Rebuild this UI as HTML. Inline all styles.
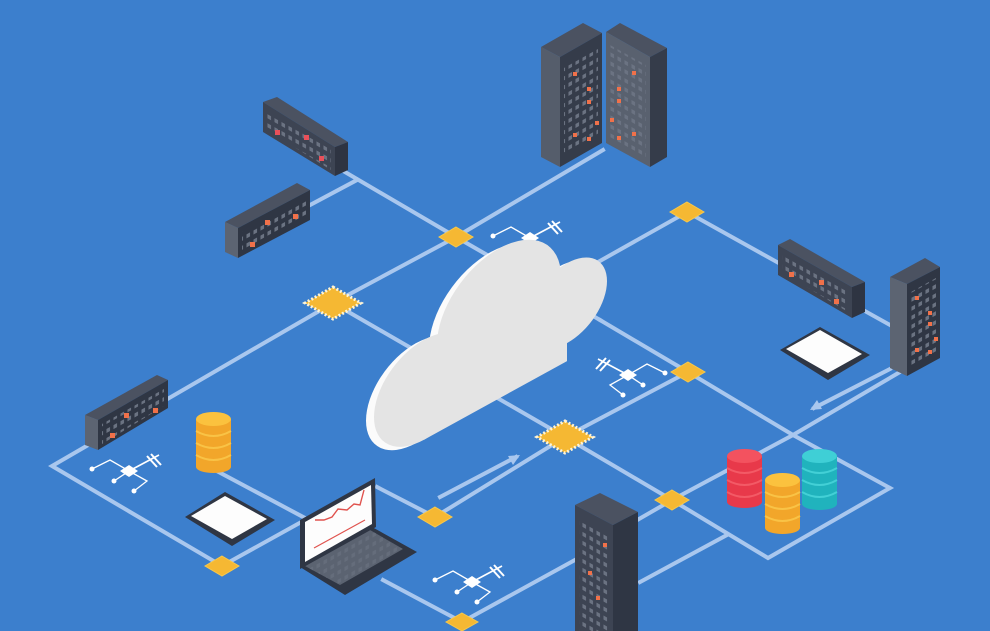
<!DOCTYPE html>
<html><head><meta charset="utf-8"><style>html,body{margin:0;padding:0;background:#3c7fcd}svg{display:block}</style></head>
<body>
<svg width="990" height="631" viewBox="0 0 990 631" xmlns="http://www.w3.org/2000/svg">
<defs>
<pattern id="pu" width="7" height="9" patternUnits="userSpaceOnUse" patternTransform="skewY(-29)"><rect x="1.5" y="2" width="3.5" height="4" fill="#6b7382"/></pattern>
<pattern id="pd" width="7" height="9" patternUnits="userSpaceOnUse" patternTransform="skewY(29)"><rect x="1.5" y="2" width="3.5" height="4" fill="#6b7382"/></pattern>
<g id="circ" stroke="#fff" stroke-width="1.3" fill="#fff">
<polyline points="-37,-2 -19,-11 0,0" fill="none"/>
<line x1="-15" y1="10" x2="0" y2="0"/>
<polyline points="0,0 18,10 5,20" fill="none"/>
<line x1="0" y1="0" x2="30" y2="-16" stroke-width="1.6"/>
<line x1="18" y1="-15" x2="28" y2="-4" stroke-width="2"/>
<line x1="22" y1="-17" x2="32" y2="-6" stroke-width="2"/>
<circle cx="-37" cy="-2" r="2.5" stroke="none"/><circle cx="-15" cy="10" r="2.5" stroke="none"/><circle cx="5" cy="20" r="2.5" stroke="none"/>
<polygon points="0,-6 9,0 0,6 -9,0" stroke="none"/>
</g>
</defs>
<rect width="990" height="631" fill="#3c7fcd"/>
<g stroke="#a9c7ee" stroke-width="4" fill="none" stroke-linecap="square">
<polyline points="603,150 456,237 333,303 52,466 222,566 305,520"/>
<polyline points="345,172 456,237 600,320"/>
<line x1="310" y1="205" x2="357" y2="180"/>
<polyline points="215,470 305,518"/>
<polyline points="333,303 565,437 672,500 768,558 890,488 793,435 688,372 600,320"/>
<polyline points="575,275 687,212 890,325"/>
<polyline points="688,372 565,437 435,517 377,487"/>
<polyline points="900,372 793,435 672,500 620,530"/>
<polyline points="727,535 640,582"/>
<polyline points="383,580 462,622 575,560"/>
<polyline points="440,497 516,457"/>
<polyline points="890,369 814,408"/>
</g>
<polygon points="520,455 508,456 513,465" fill="#a9c7ee"/>
<polygon points="810,410 822,409 817,400" fill="#a9c7ee"/>
<g fill="#f5b833" stroke="#f8c84a" stroke-width="1">
<polygon points="456,227 473,237 456,247 439,237"/>
<polygon points="687,202 704,212 687,222 670,212"/>
<polygon points="688,362 705,372 688,382 671,372"/>
<polygon points="672,490 689,500 672,510 655,500"/>
<polygon points="435,507 452,517 435,527 418,517"/>
<polygon points="222,556 239,566 222,576 205,566"/>
<polygon points="462,613 478,622 462,631 446,622"/>
</g>
<g fill="#f5b833" stroke="#fff5d6" stroke-width="3" stroke-dasharray="2 2">
<polygon points="333,287 361,303 333,319 305,303"/>
<polygon points="565,421 593,437 565,453 537,437"/>
</g>
<use href="#circ" x="530" y="238"/>
<use href="#circ" x="628" y="375" transform="translate(1256,0) scale(-1,1)"/>
<use href="#circ" x="129" y="471"/>
<use href="#circ" x="472" y="582"/>
<g transform="matrix(1,-0.55,0,1,369,470)">
<g fill="#fbfbfb" transform="translate(-8,-1)">
<circle cx="55" cy="-50" r="50"/><circle cx="130" cy="-88" r="62"/><circle cx="198" cy="-58" r="40"/><rect x="55" y="-90" width="143" height="90"/>
</g>
<g fill="#e4e4e4">
<circle cx="55" cy="-50" r="50"/><circle cx="130" cy="-88" r="62"/><circle cx="198" cy="-58" r="40"/><rect x="55" y="-90" width="143" height="90"/>
</g>
</g>
<polygon points="541,47 583,23 602,33 560,57" fill="#4b5261"/>
<polygon points="541,47 560,57 560,167 541,157" fill="#555d6b"/>
<polygon points="560,57 602,33 602,143 560,167" fill="#353c4a"/>
<polygon points="564,68 598,49 598,138 564,157" fill="url(#pu)"/>
<polygon points="606,32 620,23 667,48 650,57" fill="#4b5261"/>
<polygon points="606,32 650,57 650,167 606,143" fill="#59616f"/>
<polygon points="610,45 646,65 646,157 610,137" fill="url(#pd)"/>
<polygon points="650,57 667,48 667,157 650,167" fill="#353c4a"/>
<g fill="#f0714a"><rect x="573" y="72" width="4" height="4"/><rect x="587" y="87" width="4" height="4"/><rect x="587" y="100" width="4" height="4"/><rect x="595" y="121" width="4" height="4"/><rect x="573" y="133" width="4" height="4"/><rect x="587" y="137" width="4" height="4"/><rect x="632" y="71" width="4" height="4"/><rect x="617" y="87" width="4" height="4"/><rect x="617" y="99" width="4" height="4"/><rect x="610" y="118" width="4" height="4"/><rect x="617" y="136" width="4" height="4"/><rect x="632" y="132" width="4" height="4"/></g>
<polygon points="263,102 277,97 348,142 335,147" fill="#4b5261"/>
<polygon points="263,102 335,147 335,176 263,132" fill="#3d4453"/>
<polygon points="267,110 331,150 331,170 267,130" fill="url(#pd)"/>
<polygon points="335,147 348,142 348,170 335,176" fill="#2e3442"/>
<g fill="#e9505a"><rect x="275" y="130" width="5" height="5"/><rect x="304" y="135" width="5" height="5"/><rect x="319" y="156" width="5" height="5"/></g>
<polygon points="225,222 297,183 310,190 238,228" fill="#4b5261"/>
<polygon points="225,222 238,228 238,258 225,252" fill="#5c6472"/>
<polygon points="238,228 310,190 310,220 238,258" fill="#2f3644"/>
<polygon points="242,232 306,198 306,218 242,252" fill="url(#pu)"/>
<g fill="#f0714a"><rect x="265" y="220" width="5" height="5"/><rect x="293" y="214" width="5" height="5"/><rect x="250" y="242" width="5" height="5"/></g>
<polygon points="85,415 157,375 168,380 98,420" fill="#4b5261"/>
<polygon points="85,415 98,420 98,450 85,445" fill="#5c6472"/>
<polygon points="98,420 168,380 168,408 98,450" fill="#2f3644"/>
<polygon points="102,424 164,389 164,406 102,444" fill="url(#pu)"/>
<g fill="#f0714a"><rect x="124" y="413" width="5" height="5"/><rect x="153" y="408" width="5" height="5"/><rect x="110" y="433" width="5" height="5"/></g>
<polygon points="778,245 790,239 865,282 852,287" fill="#4b5261"/>
<polygon points="778,245 852,287 852,318 778,275" fill="#3d4453"/>
<polygon points="782,252 848,290 848,312 782,272" fill="url(#pd)"/>
<polygon points="852,287 865,282 865,312 852,318" fill="#2e3442"/>
<g fill="#f0714a"><rect x="789" y="272" width="5" height="5"/><rect x="819" y="280" width="5" height="5"/><rect x="834" y="299" width="5" height="5"/></g>
<polygon points="890,277 925,258 940,267 907,284" fill="#4b5261"/>
<polygon points="890,277 907,284 907,376 890,368" fill="#5c6472"/>
<polygon points="907,284 940,267 940,358 907,376" fill="#2f3644"/>
<polygon points="911,292 936,278 936,353 911,367" fill="url(#pu)"/>
<g fill="#f0714a"><rect x="915" y="296" width="4" height="4"/><rect x="928" y="311" width="4" height="4"/><rect x="928" y="322" width="4" height="4"/><rect x="934" y="337" width="4" height="4"/><rect x="915" y="348" width="4" height="4"/><rect x="928" y="350" width="4" height="4"/></g>
<polygon points="575,505 600,493 638,512 613,525" fill="#4b5261"/>
<polygon points="575,505 613,525 613,631 575,631" fill="#3d4453"/>
<polygon points="579,518 609,534 609,631 579,631" fill="url(#pd)"/>
<polygon points="613,525 638,512 638,631 613,631" fill="#2f3644"/>
<g fill="#f0714a"><rect x="603" y="543" width="4" height="4"/><rect x="588" y="571" width="4" height="4"/><rect x="596" y="596" width="4" height="4"/></g>
<polygon points="780,350 820,327 870,355 828,380" fill="#2f3644"/>
<polygon points="786,349 820,330 862,354 828,373" fill="#fdfdfd"/>
<polygon points="185,517 225,492 275,520 232,546" fill="#2f3644"/>
<polygon points="191,516 225,496 267,519 232,539" fill="#fdfdfd"/>
<polygon points="300,567 372,527 417,552 345,595" fill="#2f3644"/>
<polygon points="305,566 370,530 403,549 340,585" fill="#5b6371"/>
<polygon points="305,566 370,530 403,549 340,585" fill="url(#pu)" opacity="0.6"/>
<polygon points="300,520 375,478 376,527 300,569" fill="#2f3644"/>
<polygon points="305,522 371,485 372,524 305,562" fill="#fdfdfd"/>
<polyline points="315,520 324,520 332,517 338,509 347,510 354,504 360,505 364,490" fill="none" stroke="#e0534e" stroke-width="1.4"/>
<line x1="314" y1="548" x2="365" y2="520" stroke="#e0534e" stroke-width="1.2"/>
<g>
<rect x="196" y="419" width="35" height="48" fill="#f2a62a"/><ellipse cx="213.5" cy="467" rx="17.5" ry="6" fill="#f2a62a"/>
<g fill="none" stroke="#f9c346" stroke-width="2"><path d="M196 431 q17.5 10 35 0"/><path d="M196 443 q17.5 10 35 0"/><path d="M196 455 q17.5 10 35 0"/></g>
<ellipse cx="213.5" cy="419" rx="17.5" ry="7" fill="#fbc23e"/>
</g>
<g>
<rect x="727" y="456" width="35" height="46" fill="#e8394a"/><ellipse cx="744.5" cy="502" rx="17.5" ry="6" fill="#e8394a"/>
<g fill="none" stroke="#f35a66" stroke-width="2"><path d="M727 468 q17.5 10 35 0"/><path d="M727 480 q17.5 10 35 0"/><path d="M727 492 q17.5 10 35 0"/></g>
<ellipse cx="744.5" cy="456" rx="17.5" ry="7" fill="#f3525f"/>
</g>
<g>
<rect x="802" y="456" width="35" height="48" fill="#20b3bd"/><ellipse cx="819.5" cy="504" rx="17.5" ry="6" fill="#20b3bd"/>
<g fill="none" stroke="#43d0d6" stroke-width="2"><path d="M802 468 q17.5 10 35 0"/><path d="M802 480 q17.5 10 35 0"/><path d="M802 492 q17.5 10 35 0"/></g>
<ellipse cx="819.5" cy="456" rx="17.5" ry="7" fill="#3fcfd6"/>
</g>
<g>
<rect x="765" y="480" width="35" height="48" fill="#f2a62a"/><ellipse cx="782.5" cy="528" rx="17.5" ry="6" fill="#f2a62a"/>
<g fill="none" stroke="#f9c346" stroke-width="2"><path d="M765 492 q17.5 10 35 0"/><path d="M765 504 q17.5 10 35 0"/><path d="M765 516 q17.5 10 35 0"/></g>
<ellipse cx="782.5" cy="480" rx="17.5" ry="7" fill="#fbc23e"/>
</g>
</svg>
</body></html>
